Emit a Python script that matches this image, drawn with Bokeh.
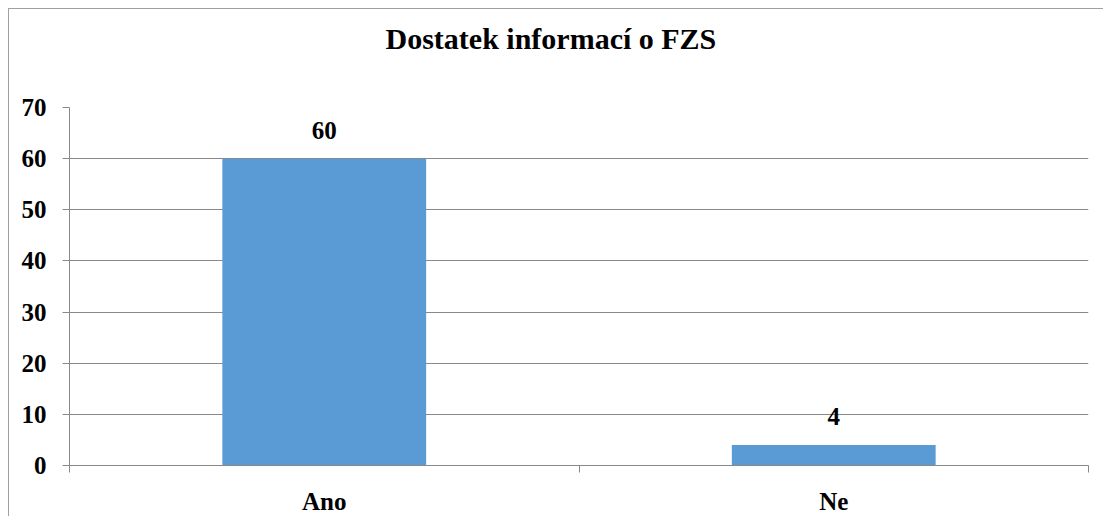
from bokeh.plotting import figure
from bokeh.models import (ColumnDataSource, Range1d, FixedTicker, Title, LabelSet)
from bokeh.embed import file_html
from bokeh.resources import INLINE

categories = ["Ano", "Ne"]
values = [60, 4]
y_ticks = [0, 10, 20, 30, 40, 50, 60, 70]
title_text = "Dostatek informací o FZS"

FONT = "Liberation Serif"
GRAY = "#898989"

n = len(categories)
centers = [i + 0.5 for i in range(n)]          # category slot centres
bounds = list(range(n + 1))                      # category slot boundaries
src = ColumnDataSource(dict(x=centers, val=values, lab=[str(v) for v in values]))

p = figure(width=1095, height=508, output_backend="svg", toolbar_location=None,
           x_range=Range1d(0, n), y_range=Range1d(0, y_ticks[-1]),
           min_border_left=60, min_border_right=16, min_border_top=98, min_border_bottom=52)
p.title = None
p.styles = {"margin-left": "8px", "margin-top": "8px",
            "border-left": "1px solid #a0a0a0", "border-top": "1px solid #a0a0a0"}
p.outline_line_color = None
p.background_fill_color = "white"
p.border_fill_color = "white"

p.vbar(x="x", top="val", width=0.4, source=src, fill_color="#5B9BD5", line_color=None)

p.add_layout(LabelSet(x="x", y="val", text="lab", source=src, y_offset=20,
                      text_align="center", text_baseline="alphabetic",
                      text_font=FONT, text_font_style="bold", text_font_size="25px",
                      text_color="black"))

# y axis
yax = p.yaxis[0]
yax.ticker = FixedTicker(ticks=y_ticks)
yax.axis_line_color = GRAY
yax.major_tick_line_color = GRAY
yax.major_tick_out = 7
yax.major_tick_in = 0
yax.minor_tick_line_color = None
yax.major_label_text_font = FONT
yax.major_label_text_font_style = "bold"
yax.major_label_text_font_size = "25px"
yax.major_label_text_color = "black"
yax.major_label_standoff = 16

p.ygrid.ticker = FixedTicker(ticks=y_ticks)
p.ygrid.grid_line_color = GRAY
p.xgrid.grid_line_color = None

# x axis: labels at slot centres, tick marks (minor) at slot boundaries
xax = p.xaxis[0]
xax.ticker = FixedTicker(ticks=centers, minor_ticks=bounds)
xax.major_label_overrides = {c: cat for c, cat in zip(centers, categories)}
xax.axis_line_color = GRAY
xax.major_tick_line_color = None
xax.major_tick_out = 0
xax.major_tick_in = 0
xax.minor_tick_line_color = GRAY
xax.minor_tick_out = 7
xax.minor_tick_in = 0
xax.major_label_text_font = FONT
xax.major_label_text_font_style = "bold"
xax.major_label_text_font_size = "25px"
xax.major_label_text_color = "black"
xax.major_label_standoff = 15

# chart title; a blank spacer panel between it and the frame lifts it to its place
spacer = Title(text=" ", text_font_size="1px", standoff=50)
main_title = Title(text=title_text, align="left", offset=316, text_font=FONT,
                   text_font_style="bold", text_font_size="30px", text_color="black",
                   standoff=0)
p.above = [spacer, main_title]

open("out.html", "w").write(file_html(p, INLINE))
